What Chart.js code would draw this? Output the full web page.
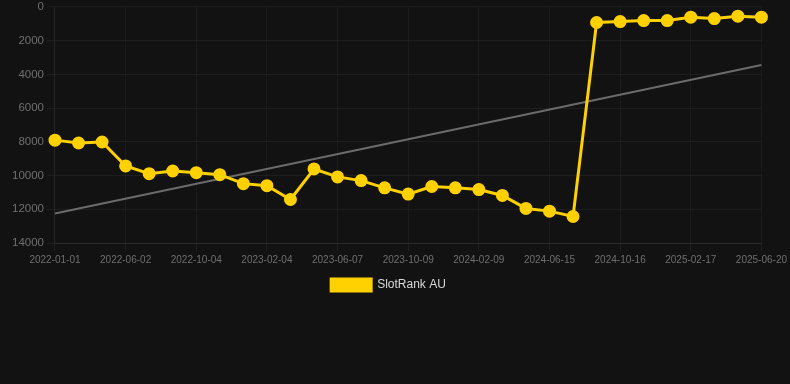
<!DOCTYPE html>
<html>
<head>
<meta charset="utf-8">
<script src="https://cdn.jsdelivr.net/npm/chart.js@4/dist/chart.umd.min.js"></script>
<style>
  html, body { margin: 0; padding: 0; background: #121212; overflow: hidden; }
  #wrap { width: 790px; height: 304px; position: relative; margin-top: -3px; }
</style>
</head>
<body>
<div id="wrap"><canvas id="myChart"></canvas></div>
<script>
// 날짜 라벨 (3개마다 하나씩 표시)
const dates = [
  '2022-01-01', '2022-02-20', '2022-04-11', '2022-06-02', '2022-07-13', '2022-08-23',
  '2022-10-04', '2022-11-14', '2022-12-25', '2023-02-04', '2023-03-17', '2023-04-27',
  '2023-06-07', '2023-07-18', '2023-08-28', '2023-10-09', '2023-11-19', '2023-12-30',
  '2024-02-09', '2024-03-21', '2024-05-04', '2024-06-15', '2024-07-26', '2024-09-05',
  '2024-10-16', '2024-11-26', '2025-01-07', '2025-02-17', '2025-03-30', '2025-05-10',
  '2025-06-20'
];

// SlotRank AU 순위
const rankAU = [
  7900, 8070, 8010, 9430, 9890, 9730, 9830, 9950, 10480, 10600, 11420,
  9610, 10080, 10300, 10730, 11100, 10650, 10730, 10830, 11180, 11950, 12110, 12430,
  925, 870, 810, 810, 610, 690, 550, 610
];

// 추세선: 시작과 끝 값만
const trend = new Array(dates.length).fill(null);
trend[0] = 12250;
trend[dates.length - 1] = 3450;

const yTicks = [0, 14000, 2000]; // min, max, step

const ctx = document.getElementById('myChart').getContext('2d');
Chart.defaults.font.family = '"Liberation Sans", Arial, sans-serif';

new Chart(ctx, {
  type: 'line',
  data: {
    labels: dates,
    datasets: [
      {
        label: 'SlotRank AU',
        data: rankAU,
        borderColor: '#FFD100',
        backgroundColor: '#FFD100',
        borderWidth: 3,
        pointRadius: 5,
        pointHoverRadius: 6,
        tension: 0,
        order: 1
      },
      {
        label: 'trend',
        data: trend,
        borderColor: '#6b6b6b',
        borderWidth: 2,
        pointRadius: 0,
        spanGaps: true,
        tension: 0,
        order: 2
      }
    ]
  },
  options: {
    responsive: true,
    maintainAspectRatio: false,
    animation: false,
    layout: { padding: { left: 9, right: 22, top: 0, bottom: 0 } },
    plugins: {
      legend: {
        position: 'bottom',
        labels: {
          color: '#d8d8d8',
          font: { size: 12 },
          boxWidth: 40,
          boxHeight: 12,
          filter: item => item.text !== 'trend'
        }
      },
      tooltip: { enabled: false }
    },
    scales: {
      x: {
        grid: { color: 'rgba(255,255,255,0.04)', tickColor: 'rgba(255,255,255,0.06)' },
        border: { color: 'rgba(255,255,255,0.05)' },
        ticks: {
          color: '#6f6f6f',
          font: { size: 10 },
          autoSkip: false,
          maxRotation: 0,
          callback: function(value, index) {
            return index % 3 === 0 ? this.getLabelForValue(value) : null;
          }
        }
      },
      y: {
        reverse: true,
        min: yTicks[0],
        max: yTicks[1],
        grid: { color: 'rgba(255,255,255,0.05)', tickColor: 'rgba(255,255,255,0.05)' },
        border: { color: 'rgba(255,255,255,0.05)' },
        ticks: {
          stepSize: yTicks[2],
          color: '#6f6f6f',
          font: { size: 11.5 },
          callback: value => String(value)
        }
      }
    }
  }
});
</script>
</body>
</html>
